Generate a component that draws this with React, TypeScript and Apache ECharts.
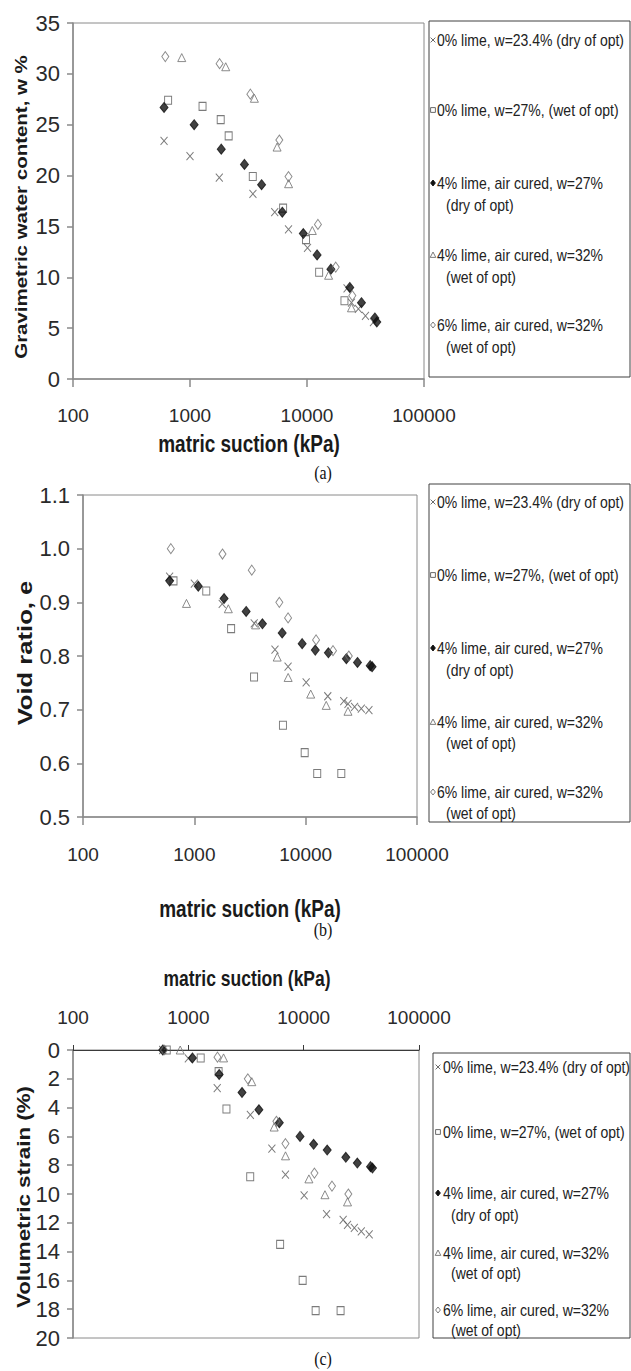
import { useEffect, useRef } from 'react';
import * as echarts from 'echarts';

// Specimen series (legend order)
const SERIES_NAMES = [
  '0% lime, w=23.4% (dry of opt)',
  '0% lime, w=27%, (wet of opt)',
  '4% lime, air cured, w=27% (dry of opt)',
  '4% lime, air cured, w=32% (wet of opt)',
  '6% lime, air cured, w=32% (wet of opt)',
];
const LEGEND_LINES = [
  ['0% lime, w=23.4% (dry of opt)'],
  ['0% lime, w=27%, (wet of opt)'],
  ['4% lime, air cured, w=27%', '(dry of opt)'],
  ['4% lime, air cured, w=32%', '(wet of opt)'],
  ['6% lime, air cured, w=32%', '(wet of opt)'],
];

// Matric suction (kPa) of each measurement, per specimen
const suction0Dry = [600, 1000, 1780, 3450, 5300, 6950, 10100, 15800, 22000, 24000, 27500, 31600, 37000];
const suction0Wet = [650, 1280, 1830, 2140, 3440, 6250, 9800, 12700, 20900];
const suction4Dry = [600, 1085, 1850, 2920, 4090, 6150, 9300, 12200, 16000, 23200, 29200, 38000, 39500];
const suction4Wet = [850, 2020, 3550, 5550, 6960, 11100, 15300, 24000];
const suction6Wet = [615, 1790, 3280, 5800, 6950, 12400, 17600, 24400];

// (a) Gravimetric water content, w %
const water0Dry = [23.4, 21.9, 19.8, 18.2, 16.4, 14.7, 12.9, null, 8.9, 7.5, 6.9, 6.2, 5.6];
const water0Wet = [27.4, 26.8, 25.5, 23.9, 19.9, 16.8, 13.7, 10.5, 7.7];
const water4Dry = [26.7, 25.0, 22.6, 21.1, 19.1, 16.4, 14.3, 12.2, 10.8, 9.0, 7.5, 6.0, 5.6];
const water4Wet = [31.6, 30.7, 27.6, 22.8, 19.2, 14.6, 10.2, 7.0];
const water6Wet = [31.7, 31.0, 28.0, 23.5, 19.9, 15.2, 11.0, 8.2];

// (b) Void ratio, e
const void0Dry = [0.948, 0.935, 0.897, 0.861, 0.812, 0.78, 0.751, 0.725, 0.716, 0.711, 0.705, 0.702, 0.699];
const void0Wet = [0.94, 0.921, null, 0.851, 0.761, 0.671, 0.62, 0.581, 0.581];
const void4Dry = [0.94, 0.93, 0.907, 0.883, 0.86, 0.843, 0.823, 0.811, 0.806, 0.795, 0.788, 0.782, 0.78];
const void4Wet = [0.898, 0.888, 0.858, 0.798, 0.76, 0.729, 0.708, 0.697];
const void6Wet = [1.0, 0.99, 0.96, 0.9, 0.871, 0.83, 0.81, 0.8];

// (c) Volumetric strain (%)
const strain0Dry = [0, 0.58, 2.65, 4.5, 6.85, 8.65, 10.1, 11.4, 11.8, 12.15, 12.35, 12.6, 12.8];
const strain0Wet = [0, 0.55, 1.5, 4.1, 8.8, 13.5, 16.0, 18.1, 18.1];
const strain4Dry = [0, 0.55, 1.7, 2.95, 4.15, 5.05, 6.0, 6.55, 6.95, 7.45, 7.85, 8.1, 8.2];
const strain4Wet = [0, 0.55, 2.2, 5.35, 7.35, 8.95, 10.05, 10.55];
const strain6Wet = [0, 0.5, 2.0, 4.95, 6.5, 8.55, 9.45, 10.0];

const SUCTIONS = [suction0Dry, suction0Wet, suction4Dry, suction4Wet, suction6Wet];

// Axis ranges and titles
const SUCTION_MIN = 100;
const SUCTION_MAX = 100000;
const X_TITLE = 'matric suction (kPa)';
const Y_TITLES = ['Gravimetric water content, w %', 'Void ratio, e', 'Volumetric strain (%)'];
const PANEL_TAGS = ['(a)', '(b)', '(c)'];

const SANS = '"Liberation Sans", Arial, sans-serif';
const SERIF = '"Liberation Serif", "Times New Roman", serif';

const MARKERS = [
  { symbol: 'path://M0,0L10,10M10,0L0,10', size: [7, 8], fill: 'rgba(0,0,0,0)', stroke: '#5a5a5a' },
  { symbol: 'rect', size: [7, 8], fill: 'rgba(0,0,0,0)', stroke: '#5a5a5a' },
  { symbol: 'diamond', size: [8, 10], fill: '#111111', stroke: '#111111' },
  { symbol: 'triangle', size: [8, 8], fill: 'rgba(0,0,0,0)', stroke: '#6e6e6e' },
  { symbol: 'diamond', size: [7, 10], fill: 'rgba(0,0,0,0)', stroke: '#6e6e6e' },
];

const PANELS = [
  {
    values: [water0Dry, water0Wet, water4Dry, water4Wet, water6Wet],
    grid: { left: 73, top: 23, width: 351, height: 356 },
    y: { min: 0, max: 35, interval: 5, inverse: false, digits: 0 },
    xPos: 'bottom',
    xLabelMargin: 27,
    xTickLen: 8,
    xTitle: { x: 249, y: 444, size: 19 },
    yTitle: { x: 21, y: 207, size: 16 },
    tag: { x: 323, y: 473 },
    legend: { left: 429, top: 21, bottom: 377, symX: 433, textX: 437, indentX: 446, rows: [[40], [110], [183, 205], [255, 277], [325, 347]] },
  },
  {
    values: [void0Dry, void0Wet, void4Dry, void4Wet, void6Wet],
    grid: { left: 83, top: 495, width: 334, height: 322 },
    y: { min: 0.5, max: 1.1, interval: 0.1, inverse: false, digits: 1 },
    xPos: 'bottom',
    xLabelMargin: 28,
    xTickLen: 8,
    xTitle: { x: 250, y: 909, size: 19 },
    yTitle: { x: 25, y: 653, size: 20 },
    tag: { x: 323, y: 930 },
    legend: { left: 429, top: 484, bottom: 822, symX: 433, textX: 437, indentX: 446, rows: [[502], [575], [648, 670], [722, 743], [792, 813]] },
  },
  {
    values: [strain0Dry, strain0Wet, strain4Dry, strain4Wet, strain6Wet],
    grid: { left: 73, top: 1050, width: 346, height: 288 },
    y: { min: 0, max: 20, interval: 2, inverse: true, digits: 0 },
    xPos: 'top',
    xLabelMargin: 23,
    xTickLen: 5,
    xTitle: { x: 247, y: 978, size: 17.5 },
    yTitle: { x: 24, y: 1197, size: 17.5 },
    tag: { x: 323, y: 1359 },
    legend: { left: 433, top: 1053, bottom: 1338, symX: 438, textX: 443, indentX: 451, rows: [[1067], [1132], [1193, 1215], [1253, 1273], [1310, 1330]] },
  },
];

function legendSymbol(kind: number, cx: number, cy: number): any {
  const w = 2.4;
  const h = 3;
  const m = MARKERS[kind];
  const stroke = { stroke: m.stroke, lineWidth: 0.9 };
  switch (kind) {
    case 0:
      return {
        type: 'group',
        children: [
          { type: 'line', shape: { x1: cx - w, y1: cy - w, x2: cx + w, y2: cy + w }, style: stroke },
          { type: 'line', shape: { x1: cx - w, y1: cy + w, x2: cx + w, y2: cy - w }, style: stroke },
        ],
      };
    case 1:
      return { type: 'rect', shape: { x: cx - w, y: cy - w, width: 2 * w, height: 2 * w }, style: { fill: 'none', ...stroke } };
    case 2:
      return { type: 'polygon', shape: { points: [[cx, cy - h], [cx + w, cy], [cx, cy + h], [cx - w, cy]] }, style: { fill: m.fill, ...stroke } };
    case 3:
      return { type: 'polygon', shape: { points: [[cx, cy - h], [cx + w + 0.4, cy + h * 0.8], [cx - w - 0.4, cy + h * 0.8]] }, style: { fill: 'none', ...stroke } };
    default:
      return { type: 'polygon', shape: { points: [[cx, cy - h], [cx + w, cy], [cx, cy + h], [cx - w, cy]] }, style: { fill: 'none', ...stroke } };
  }
}

function buildOption(): any {
  const grid: any[] = [];
  const xAxis: any[] = [];
  const yAxis: any[] = [];
  const series: any[] = [];
  const graphic: any[] = [];

  PANELS.forEach((p, pi) => {
    const isTop = p.xPos === 'top';
    grid.push({
      ...p.grid,
      show: true,
      borderColor: '#8a8a8a',
      borderWidth: 1,
      backgroundColor: 'transparent',
      containLabel: false,
    });
    xAxis.push({
      type: 'log',
      logBase: 10,
      min: SUCTION_MIN,
      max: SUCTION_MAX,
      gridIndex: pi,
      position: p.xPos,
      axisLine: { show: true, onZero: false, lineStyle: { color: isTop ? '#3a3a3a' : '#8a8a8a', width: isTop ? 1 : 1.5 } },
      axisTick: { show: true, inside: false, length: p.xTickLen, lineStyle: { color: isTop ? '#3a3a3a' : '#8a8a8a', width: isTop ? 1 : 1.5 } },
      minorTick: { show: false },
      splitLine: { show: false },
      axisLabel: {
        margin: p.xLabelMargin,
        fontFamily: SANS,
        fontSize: 19,
        color: '#2a2a2a',
        formatter: (v: number) => String(Math.round(v)),
      },
    });
    yAxis.push({
      type: 'value',
      gridIndex: pi,
      min: p.y.min,
      max: p.y.max,
      interval: p.y.interval,
      inverse: p.y.inverse,
      axisLine: { show: true, onZero: false, lineStyle: { color: '#8a8a8a', width: 1.5 } },
      axisTick: { show: true, inside: false, length: 6, lineStyle: { color: '#8a8a8a', width: 1.5 } },
      splitLine: { show: false },
      axisLabel: {
        margin: 13,
        fontFamily: SANS,
        fontSize: 22,
        color: '#2a2a2a',
        formatter: (v: number) => v.toFixed(p.y.digits),
      },
    });

    p.values.forEach((vals, si) => {
      const xs = SUCTIONS[si];
      const data: number[][] = [];
      vals.forEach((v, k) => {
        if (v !== null && v !== undefined) data.push([xs[k], v as number]);
      });
      const m = MARKERS[si];
      series.push({
        type: 'scatter',
        name: SERIES_NAMES[si],
        xAxisIndex: pi,
        yAxisIndex: pi,
        data,
        symbol: m.symbol,
        symbolSize: m.size,
        itemStyle: { color: m.fill, borderColor: m.stroke, borderWidth: 1 },
        emphasis: { disabled: true },
        silent: true,
        z: 2 + si,
      });
    });

    // axis titles and panel tag
    graphic.push({
      type: 'text',
      x: p.xTitle.x,
      y: p.xTitle.y,
      scaleY: 1.25,
      style: { text: X_TITLE, x: 0, y: 0, align: 'center', verticalAlign: 'middle', font: `bold ${p.xTitle.size}px ${SANS}`, fill: '#1a1a1a' },
    });
    graphic.push({
      type: 'text',
      x: p.yTitle.x,
      y: p.yTitle.y,
      rotation: Math.PI / 2,
      scaleX: 1.28,
      style: { text: Y_TITLES[pi], x: 0, y: 0, align: 'center', verticalAlign: 'middle', font: `bold ${p.yTitle.size}px ${SANS}`, fill: '#1a1a1a' },
    });
    graphic.push({
      type: 'text',
      x: p.tag.x,
      y: p.tag.y,
      scaleY: 1.15,
      style: { text: PANEL_TAGS[pi], x: 0, y: 0, align: 'center', verticalAlign: 'middle', font: `16px ${SERIF}`, fill: '#111' },
    });

    // legend box
    const L = p.legend;
    graphic.push({
      type: 'rect',
      shape: { x: L.left, y: L.top, width: 630 - L.left, height: L.bottom - L.top },
      style: { fill: 'none', stroke: '#404040', lineWidth: 1 },
    });
    LEGEND_LINES.forEach((lines, si) => {
      const rows = L.rows[si];
      graphic.push(legendSymbol(si, L.symX, rows[0]));
      lines.forEach((t, li) => {
        graphic.push({
          type: 'text',
          x: li === 0 ? L.textX : L.indentX,
          y: rows[li],
          scaleY: 1.2,
          style: { text: t, x: 0, y: 0, align: 'left', verticalAlign: 'middle', font: `14px ${SANS}`, fill: '#222' },
        });
      });
    });
  });

  return {
    animation: false,
    backgroundColor: '#ffffff',
    grid,
    xAxis,
    yAxis,
    series,
    graphic,
  };
}

export default function App() {
  const ref = useRef<HTMLDivElement>(null);
  useEffect(() => {
    document.body.style.margin = '0';
    if (!ref.current) return;
    const chart = echarts.init(ref.current, undefined, { renderer: 'svg' });
    chart.setOption(buildOption());
    return () => chart.dispose();
  }, []);
  return <div ref={ref} style={{ width: 631, height: 1371 }} />;
}
